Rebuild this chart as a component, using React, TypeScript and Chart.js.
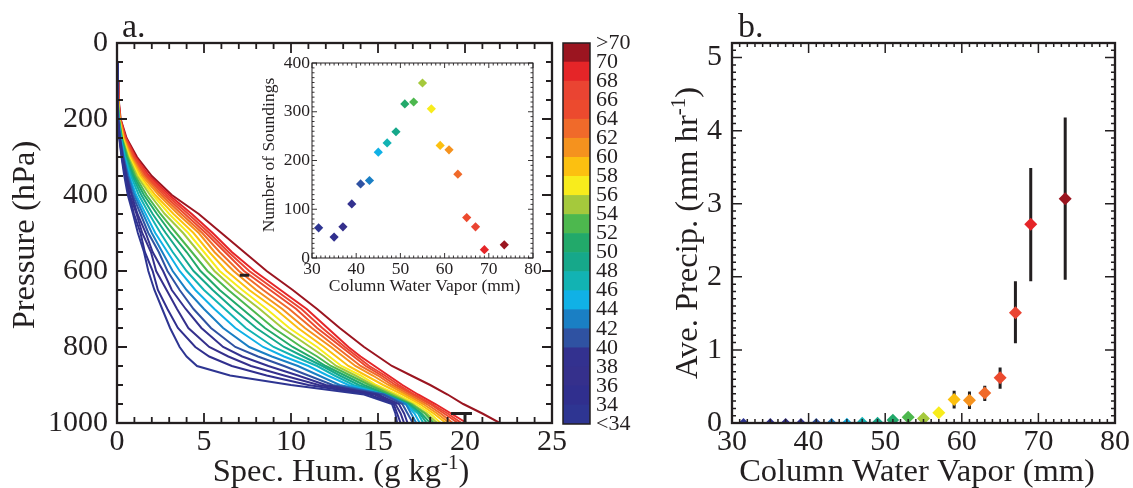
import { useEffect, useRef } from "react";
import { Chart, registerables } from "chart.js";

Chart.register(...registerables);

const SERIF = '"Liberation Serif", "Times New Roman", Times, serif';
const INK = "#231f20";

// ---------------- Panel a: mean specific humidity profiles per CWV bin ----------------
const pressureLevels = [50, 100, 150, 200, 250, 300, 350, 400, 450, 500, 550, 600, 650, 700, 750, 800, 825, 850, 875, 900, 925, 950, 975, 1000];

const qLt34 = [0.01, 0.02, 0.03, 0.05, 0.13, 0.26, 0.42, 0.62, 0.92, 1.2, 1.55, 1.8, 2.15, 2.6, 3.05, 3.6, 4.0, 4.6, 6.5, 10.0, 14.2, 15.8, 16.0, 16.1];
const q34to36 = [0.01, 0.02, 0.03, 0.05, 0.14, 0.28, 0.46, 0.7, 0.98, 1.35, 1.6, 2.05, 2.35, 2.9, 3.5, 4.5, 5.3, 6.6, 8.6, 11.0, 14.5, 15.9, 16.1, 16.3];
const q36to38 = [0.01, 0.02, 0.03, 0.06, 0.15, 0.3, 0.5, 0.74, 1.12, 1.45, 1.95, 2.25, 2.85, 3.45, 4.1, 5.3, 6.4, 7.7, 9.6, 11.6, 14.8, 16.0, 16.3, 16.5];
const q38to40 = [0.01, 0.02, 0.03, 0.06, 0.16, 0.33, 0.55, 0.84, 1.18, 1.65, 2.05, 2.65, 3.15, 3.95, 4.85, 6.1, 7.2, 8.7, 10.4, 12.0, 15.0, 16.2, 16.5, 16.7];
const q40to42 = [0.01, 0.02, 0.04, 0.07, 0.17, 0.36, 0.6, 0.9, 1.35, 1.8, 2.4, 2.9, 3.6, 4.4, 5.4, 6.8, 8.1, 9.6, 11.0, 12.4, 15.3, 16.4, 16.7, 17.0];
const q42to44 = [0.01, 0.02, 0.04, 0.07, 0.19, 0.39, 0.66, 1.0, 1.5, 2.0, 2.6, 3.2, 4.0, 5.0, 6.1, 7.6, 8.9, 10.4, 11.6, 12.8, 15.4, 16.6, 16.9, 17.2];
const q44to46 = [0.01, 0.03, 0.04, 0.08, 0.2, 0.42, 0.72, 1.1, 1.65, 2.2, 2.9, 3.6, 4.5, 5.6, 6.8, 8.4, 9.6, 11.0, 12.1, 13.3, 15.3, 16.6, 17.1, 17.4];
const q46to48 = [0.01, 0.03, 0.04, 0.08, 0.22, 0.46, 0.8, 1.25, 1.85, 2.5, 3.2, 4.0, 5.0, 6.2, 7.4, 9.0, 10.2, 11.5, 12.5, 13.6, 15.3, 16.6, 17.3, 17.6];
const q48to50 = [0.01, 0.03, 0.05, 0.09, 0.24, 0.5, 0.88, 1.4, 2.05, 2.8, 3.6, 4.4, 5.5, 6.7, 8.0, 9.6, 10.7, 11.8, 12.8, 13.9, 15.4, 16.7, 17.4, 17.8];
const q50to52 = [0.01, 0.03, 0.05, 0.1, 0.26, 0.55, 0.96, 1.55, 2.3, 3.1, 4.0, 4.8, 5.9, 7.2, 8.5, 10.1, 11.1, 12.0, 13.1, 14.2, 15.5, 16.8, 17.5, 18.0];
const q52to54 = [0.01, 0.03, 0.05, 0.11, 0.28, 0.6, 1.05, 1.7, 2.5, 3.4, 4.3, 5.2, 6.4, 7.7, 9.0, 10.6, 11.5, 12.3, 13.4, 14.5, 15.7, 16.9, 17.7, 18.2];
const q54to56 = [0.02, 0.03, 0.06, 0.12, 0.3, 0.65, 1.15, 1.9, 2.75, 3.8, 4.7, 5.6, 6.8, 8.2, 9.5, 11.1, 11.9, 12.6, 13.7, 14.7, 15.9, 17.0, 17.8, 18.4];
const q56to58 = [0.02, 0.04, 0.06, 0.13, 0.33, 0.7, 1.25, 2.05, 3.0, 4.1, 5.0, 5.9, 7.2, 8.6, 9.9, 11.5, 12.2, 12.9, 14.0, 14.9, 16.1, 17.2, 18.0, 18.6];
const q58to60 = [0.02, 0.04, 0.06, 0.14, 0.36, 0.76, 1.35, 2.2, 3.25, 4.4, 5.3, 6.3, 7.6, 9.1, 10.4, 11.9, 12.6, 13.3, 14.3, 15.3, 16.4, 17.4, 18.2, 18.9];
const q60to62 = [0.02, 0.04, 0.07, 0.15, 0.39, 0.82, 1.45, 2.4, 3.5, 4.7, 5.6, 6.7, 8.0, 9.5, 10.8, 12.3, 13.0, 13.7, 14.7, 15.6, 16.6, 17.6, 18.4, 19.1];
const q62to64 = [0.02, 0.04, 0.07, 0.16, 0.42, 0.88, 1.55, 2.55, 3.7, 4.9, 5.9, 7.0, 8.4, 9.9, 11.2, 12.6, 13.3, 14.0, 15.0, 15.8, 16.8, 17.8, 18.6, 19.3];
const q64to66 = [0.02, 0.05, 0.08, 0.17, 0.45, 0.94, 1.65, 2.7, 3.9, 5.1, 6.2, 7.3, 8.8, 10.3, 11.5, 12.9, 13.6, 14.3, 15.2, 16.0, 17.0, 18.0, 18.8, 19.6];
const q66to68 = [0.02, 0.05, 0.08, 0.18, 0.48, 1.0, 1.75, 2.85, 4.1, 5.3, 6.4, 7.6, 9.1, 10.6, 11.8, 13.1, 13.8, 14.5, 15.4, 16.2, 17.1, 18.1, 19.0, 19.8];
const q68to70 = [0.02, 0.05, 0.09, 0.19, 0.51, 1.06, 1.85, 3.0, 4.3, 5.5, 6.6, 7.9, 9.4, 10.9, 12.1, 13.3, 14.0, 14.8, 15.6, 16.4, 17.3, 18.3, 19.2, 20.1];
const qGt70 = [0.03, 0.06, 0.1, 0.21, 0.55, 1.15, 2.0, 3.15, 4.7, 6.0, 7.3, 8.6, 10.1, 11.5, 12.8, 14.2, 15.0, 15.8, 16.9, 18.0, 19.0, 19.9, 21.0, 22.0];

const humidityProfiles = [
  qLt34, q34to36, q36to38, q38to40, q40to42, q42to44, q44to46, q46to48, q48to50, q50to52,
  q52to54, q54to56, q56to58, q58to60, q60to62, q62to64, q64to66, q66to68, q68to70, qGt70,
];

const cwvBinLabels = ["<34", "34-36", "36-38", "38-40", "40-42", "42-44", "44-46", "46-48", "48-50", "50-52", "52-54", "54-56", "56-58", "58-60", "60-62", "62-64", "64-66", "66-68", "68-70", ">70"];
const cwvBinColors = [
  "#2e3592", "#302f8e", "#35308c", "#33318f", "#2f52a2", "#1a7fc4", "#10b1e6", "#12b3b3", "#16a88a", "#22a96a",
  "#4db84e", "#a5c93c", "#f8ec1c", "#fcc010", "#f5921e", "#f06a2a", "#ec4a2e", "#ea4432", "#e52528", "#9b1520",
];

// representative error bars drawn in panel a
const errBarP = [611, 975];
const errBarQLow = [7.05, 19.2];
const errBarQHigh = [7.6, 20.4];
const errStemQ = 20.0;
const errStemP = [975, 1000];

// ---------------- Inset: number of soundings per bin ----------------
const cwvCenters = [31.5, 35, 37, 39, 41, 43, 45, 47, 49, 51, 53, 55, 57, 59, 61, 63, 65, 67, 69, 73.5];
const soundingCounts = [62, 43, 64, 111, 152, 159, 217, 236, 259, 316, 320, 359, 306, 231, 222, 172, 83, 64, 17, 27];

// ---------------- Panel b: average precipitation per bin ----------------
const precipMean = [0, 0, 0, 0, 0, 0, 0, 0.01, 0.01, 0.04, 0.08, 0.06, 0.14, 0.32, 0.31, 0.41, 0.62, 1.51, 2.72, 3.07];
const precipLow = [0, 0, 0, 0, 0, 0, 0, 0.01, 0.01, 0.02, 0.05, 0.03, 0.09, 0.2, 0.19, 0.3, 0.47, 1.09, 1.94, 1.96];
const precipHigh = [0, 0, 0, 0, 0, 0, 0, 0.01, 0.01, 0.06, 0.11, 0.09, 0.19, 0.44, 0.43, 0.51, 0.76, 1.94, 3.49, 4.18];
const precipMarkerRadius = [5, 5, 5, 5, 5, 5, 5.2, 5.4, 5.5, 6.3, 6.5, 6.5, 6.5, 6.5, 6.5, 6.5, 6.5, 6.5, 6.5, 6.5];

// ---------------- Tick labels ----------------
const pressureTicks = [0, 200, 400, 600, 800, 1000];
const humidityTicks = [0, 5, 10, 15, 20, 25];
const insetXTicks = [30, 40, 50, 60, 70, 80];
const insetYTicks = [0, 100, 200, 300, 400];
const precipTicks = [0, 1, 2, 3, 4, 5];
const cwvTicks = [30, 40, 50, 60, 70, 80];
const colorbarTickValues = [0, 1, 2, 3, 4, 5, 6, 7, 8, 9, 10, 11, 12, 13, 14, 15, 16, 17, 18, 19, 20];
const colorbarTickLabels = ["<34", "34", "36", "38", "40", "42", "44", "46", "48", "50", "52", "54", "56", "58", "60", "62", "64", "66", "68", "70", ">70"];

// ---------------- helpers ----------------
function fixedAxis(size: number) {
  return (scale: any) => {
    if (scale.isHorizontal()) scale.height = size;
    else scale.width = size;
    scale.paddingLeft = 0;
    scale.paddingRight = 0;
    scale.paddingTop = 0;
    scale.paddingBottom = 0;
  };
}

function fixedTicks(values: number[]) {
  return (scale: any) => {
    scale.ticks = values.map((v) => ({ value: v }));
  };
}

function axis(o: {
  min: number;
  max: number;
  ticks: number[];
  size: number;
  fontSize: number;
  pad: number;
  reverse?: boolean;
  position?: string;
  labels?: string[];
}) {
  return {
    type: "linear",
    min: o.min,
    max: o.max,
    reverse: !!o.reverse,
    position: o.position,
    grid: { display: false, drawTicks: false },
    border: { display: false },
    ticks: {
      padding: o.pad,
      autoSkip: false,
      maxRotation: 0,
      minRotation: 0,
      color: INK,
      font: { family: SERIF, size: o.fontSize, lineHeight: 1.2 },
      callback: (v: number) => (o.labels ? o.labels[v] : String(v)),
    },
    afterBuildTicks: fixedTicks(o.ticks),
    afterFit: fixedAxis(o.size),
  };
}

function isMultiple(v: number, step: number) {
  const r = v / step;
  return Math.abs(r - Math.round(r)) < 1e-6;
}

function drawBox(
  ctx: CanvasRenderingContext2D,
  a: any,
  xs: any,
  ys: any,
  o: { xMinor: number; xMajor: number; yMinor: number; yMajor: number; minorLen: number; majorLen: number; frame: number; tick: number }
) {
  ctx.save();
  ctx.strokeStyle = INK;
  ctx.lineWidth = o.tick;
  ctx.beginPath();
  const nx = Math.round((xs.max - xs.min) / o.xMinor);
  for (let i = 0; i <= nx; i++) {
    const v = xs.min + i * o.xMinor;
    const px = xs.getPixelForValue(v);
    const len = isMultiple(v, o.xMajor) ? o.majorLen : o.minorLen;
    ctx.moveTo(px, a.bottom);
    ctx.lineTo(px, a.bottom - len);
    ctx.moveTo(px, a.top);
    ctx.lineTo(px, a.top + len);
  }
  const ny = Math.round((ys.max - ys.min) / o.yMinor);
  for (let i = 0; i <= ny; i++) {
    const v = ys.min + i * o.yMinor;
    const py = ys.getPixelForValue(v);
    const len = isMultiple(v, o.yMajor) ? o.majorLen : o.minorLen;
    ctx.moveTo(a.left, py);
    ctx.lineTo(a.left + len, py);
    ctx.moveTo(a.right, py);
    ctx.lineTo(a.right - len, py);
  }
  ctx.stroke();
  ctx.lineWidth = o.frame;
  ctx.strokeRect(a.left, a.top, a.right - a.left, a.bottom - a.top);
  ctx.restore();
}

type Part = { t: string; sup?: boolean };
function drawRich(ctx: CanvasRenderingContext2D, parts: Part[], x: number, y: number, size: number, rotate: boolean) {
  const supSize = Math.round(size * 0.64);
  const fonts = parts.map((p) => `${p.sup ? supSize : size}px ${SERIF}`);
  let total = 0;
  const widths = parts.map((p, i) => {
    ctx.font = fonts[i];
    const w = ctx.measureText(p.t).width;
    total += w;
    return w;
  });
  ctx.save();
  ctx.translate(x, y);
  if (rotate) ctx.rotate(-Math.PI / 2);
  ctx.fillStyle = INK;
  ctx.textBaseline = "alphabetic";
  ctx.textAlign = "left";
  let cx = -total / 2;
  parts.forEach((p, i) => {
    ctx.font = fonts[i];
    ctx.fillText(p.t, cx, p.sup ? -size * 0.36 : 0);
    cx += widths[i];
  });
  ctx.restore();
}

const baseOptions = {
  responsive: false,
  animation: false,
  devicePixelRatio: 1,
  events: [],
  plugins: { legend: { display: false }, tooltip: { enabled: false } },
};

// ---------------- chart configs ----------------
function profileConfig(): any {
  return {
    type: "scatter",
    data: {
      datasets: humidityProfiles.map((q, i) => ({
        label: cwvBinLabels[i],
        data: pressureLevels.map((p, k) => ({ x: q[k], y: p })),
        showLine: true,
        borderColor: cwvBinColors[i],
        backgroundColor: cwvBinColors[i],
        borderWidth: 2,
        pointRadius: 0,
        tension: 0,
      })),
    },
    options: {
      ...baseOptions,
      layout: { padding: { left: 0, top: 43, right: 23, bottom: 0 } },
      scales: {
        x: axis({ min: 0, max: 25, ticks: humidityTicks, size: 65, fontSize: 30, pad: 1 }),
        y: axis({ min: 0, max: 1000, ticks: pressureTicks, size: 117, fontSize: 30, pad: 9, reverse: true }),
      },
    },
    plugins: [
      {
        id: "panelA",
        afterDraw(chart: any) {
          const { ctx, chartArea: a } = chart;
          const xs = chart.scales.x;
          const ys = chart.scales.y;
          drawBox(ctx, a, xs, ys, { xMinor: 1, xMajor: 5, yMinor: 50, yMajor: 200, minorLen: 6, majorLen: 10, frame: 2.3, tick: 1.8 });
          ctx.save();
          ctx.strokeStyle = INK;
          ctx.lineWidth = 3;
          ctx.beginPath();
          for (let i = 0; i < errBarP.length; i++) {
            const py = ys.getPixelForValue(errBarP[i]);
            ctx.moveTo(xs.getPixelForValue(errBarQLow[i]), py);
            ctx.lineTo(xs.getPixelForValue(errBarQHigh[i]), py);
          }
          ctx.moveTo(xs.getPixelForValue(errStemQ), ys.getPixelForValue(errStemP[0]));
          ctx.lineTo(xs.getPixelForValue(errStemQ), ys.getPixelForValue(errStemP[1]));
          ctx.stroke();
          ctx.restore();
          drawRich(ctx, [{ t: "Pressure (hPa)" }], 34, 235, 32.5, true);
          drawRich(ctx, [{ t: "Spec. Hum. (g kg" }, { t: "-1", sup: true }, { t: ")" }], 341, 481, 32.5, false);
          ctx.save();
          ctx.fillStyle = INK;
          ctx.font = `34px ${SERIF}`;
          ctx.textBaseline = "alphabetic";
          ctx.fillText("a.", a.left + 5, a.top - 6);
          ctx.restore();
        },
      },
    ],
  };
}

function colorbarConfig(): any {
  return {
    type: "bar",
    data: {
      labels: [""],
      datasets: cwvBinColors.map((c, i) => ({
        label: cwvBinLabels[i],
        data: [1],
        backgroundColor: c,
        borderWidth: 0,
        barPercentage: 1,
        categoryPercentage: 1,
      })),
    },
    options: {
      ...baseOptions,
      layout: { padding: { left: 8, top: 43, right: 0, bottom: 64 } },
      scales: {
        x: { display: false, stacked: true },
        y: {
          ...axis({ min: 0, max: 20, ticks: colorbarTickValues, size: 65, fontSize: 22, pad: 6, position: "right", labels: colorbarTickLabels }),
          stacked: true,
        },
      },
    },
    plugins: [
      {
        id: "cbFrame",
        afterDraw(chart: any) {
          const { ctx, chartArea: a } = chart;
          ctx.save();
          ctx.strokeStyle = INK;
          ctx.lineWidth = 1.5;
          ctx.strokeRect(a.left, a.top, a.right - a.left, a.bottom - a.top);
          ctx.restore();
        },
      },
    ],
  };
}

function insetConfig(): any {
  return {
    type: "scatter",
    data: {
      datasets: [
        {
          label: "Number of Soundings",
          data: cwvCenters.map((x, i) => ({ x, y: soundingCounts[i] })),
          pointStyle: "rectRot",
          pointRadius: 4.6,
          pointBackgroundColor: cwvBinColors,
          pointBorderColor: cwvBinColors,
          pointBorderWidth: 0,
          clip: false,
        },
      ],
    },
    options: {
      ...baseOptions,
      layout: { padding: { left: 0, top: 13, right: 12, bottom: 0 } },
      scales: {
        x: axis({ min: 30, max: 80, ticks: insetXTicks, size: 42, fontSize: 17.5, pad: 1 }),
        y: axis({ min: 0, max: 400, ticks: insetYTicks, size: 62, fontSize: 17.5, pad: 2 }),
      },
    },
    plugins: [
      {
        id: "insetBox",
        afterDraw(chart: any) {
          const { ctx, chartArea: a } = chart;
          drawBox(ctx, a, chart.scales.x, chart.scales.y, { xMinor: 1, xMajor: 10, yMinor: 10, yMajor: 100, minorLen: 2.5, majorLen: 5, frame: 1, tick: 0.9 });
          drawRich(ctx, [{ t: "Number of Soundings" }], 24, 105, 17.5, true);
          drawRich(ctx, [{ t: "Column Water Vapor (mm)" }], (a.left + a.right) / 2 + 2, 241, 17.5, false);
        },
      },
    ],
  };
}

function precipConfig(): any {
  return {
    type: "scatter",
    data: {
      datasets: [
        {
          label: "Ave. Precip.",
          data: cwvCenters.map((x, i) => ({ x, y: precipMean[i] })),
          pointStyle: "rectRot",
          pointRadius: precipMarkerRadius,
          pointBackgroundColor: cwvBinColors,
          pointBorderColor: cwvBinColors,
          pointBorderWidth: 0,
          clip: 0,
        },
      ],
    },
    options: {
      ...baseOptions,
      layout: { padding: { left: 0, top: 43, right: 18, bottom: 0 } },
      scales: {
        x: axis({ min: 30, max: 80, ticks: cwvTicks, size: 65, fontSize: 30, pad: 1 }),
        y: axis({ min: 0, max: 5.2, ticks: precipTicks, size: 82, fontSize: 30, pad: 10 }),
      },
    },
    plugins: [
      {
        id: "errorBars",
        beforeDatasetsDraw(chart: any) {
          const { ctx } = chart;
          const xs = chart.scales.x;
          const ys = chart.scales.y;
          ctx.save();
          ctx.strokeStyle = INK;
          ctx.lineWidth = 3;
          ctx.beginPath();
          for (let i = 0; i < cwvCenters.length; i++) {
            if (precipHigh[i] <= precipLow[i]) continue;
            const px = xs.getPixelForValue(cwvCenters[i]);
            ctx.moveTo(px, ys.getPixelForValue(precipLow[i]));
            ctx.lineTo(px, ys.getPixelForValue(precipHigh[i]));
          }
          ctx.stroke();
          ctx.restore();
        },
        afterDraw(chart: any) {
          const { ctx, chartArea: a } = chart;
          drawBox(ctx, a, chart.scales.x, chart.scales.y, { xMinor: 1, xMajor: 10, yMinor: 0.1, yMajor: 1, minorLen: 4, majorLen: 10, frame: 2.3, tick: 1.5 });
          drawRich(ctx, [{ t: "Ave. Precip. (mm hr" }, { t: "-1", sup: true }, { t: ")" }], 47, 233, 32.5, true);
          drawRich(ctx, [{ t: "Column Water Vapor (mm)" }], 267, 481, 32.5, false);
          ctx.save();
          ctx.fillStyle = INK;
          ctx.font = `34px ${SERIF}`;
          ctx.textBaseline = "alphabetic";
          ctx.fillText("b.", a.left + 6, a.top - 6);
          ctx.restore();
        },
      },
    ],
  };
}

export default function App() {
  const aRef = useRef<HTMLCanvasElement>(null);
  const cbRef = useRef<HTMLCanvasElement>(null);
  const inRef = useRef<HTMLCanvasElement>(null);
  const bRef = useRef<HTMLCanvasElement>(null);

  useEffect(() => {
    const charts = [
      new Chart(aRef.current as HTMLCanvasElement, profileConfig()),
      new Chart(cbRef.current as HTMLCanvasElement, colorbarConfig()),
      new Chart(inRef.current as HTMLCanvasElement, insetConfig()),
      new Chart(bRef.current as HTMLCanvasElement, precipConfig()),
    ];
    return () => charts.forEach((c) => c.destroy());
  }, []);

  const abs = (left: number, top: number, w: number, h: number): any => ({
    position: "absolute",
    left,
    top,
    width: w,
    height: h,
  });

  return (
    <div style={{ position: "absolute", left: 0, top: 0, width: 1133, height: 488, background: "#ffffff", overflow: "hidden" }}>
      <canvas ref={aRef} width={575} height={488} style={abs(0, 0, 575, 488)} />
      <canvas ref={cbRef} width={100} height={488} style={abs(555, 0, 100, 488)} />
      <canvas ref={inRef} width={295} height={250} style={abs(250, 50, 295, 250)} />
      <canvas ref={bRef} width={483} height={488} style={abs(650, 0, 483, 488)} />
    </div>
  );
}
